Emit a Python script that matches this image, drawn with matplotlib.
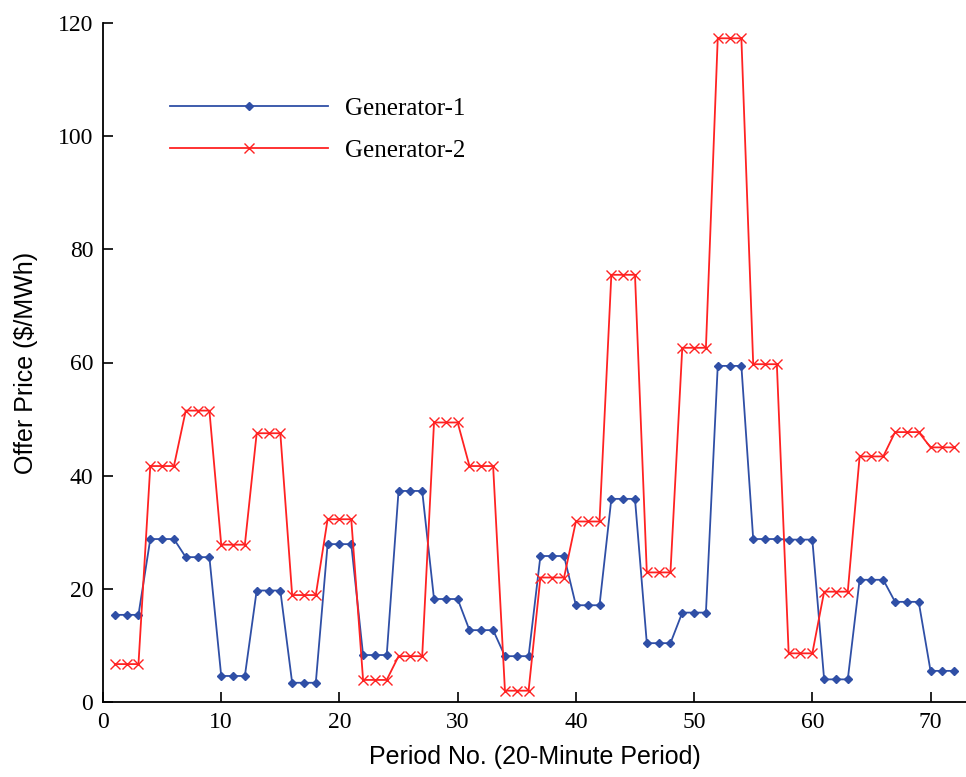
import numpy as np
import matplotlib.pyplot as plt

# Offer prices per 20-minute period
periods = np.arange(1, 73)
gen1 = [15.4, 15.4, 15.4, 28.8, 28.8, 28.8, 25.6, 25.6, 25.6, 4.6, 4.6, 4.6,
        19.7, 19.7, 19.7, 3.4, 3.4, 3.4, 27.9, 27.9, 27.9, 8.3, 8.3, 8.3,
        37.3, 37.3, 37.3, 18.2, 18.2, 18.2, 12.7, 12.7, 12.7, 8.1, 8.1, 8.1,
        25.8, 25.8, 25.8, 17.1, 17.1, 17.1, 35.9, 35.9, 35.9, 10.4, 10.4, 10.4,
        15.8, 15.8, 15.8, 59.4, 59.4, 59.4, 28.8, 28.8, 28.8, 28.7, 28.7, 28.7,
        4.0, 4.0, 4.0, 21.6, 21.6, 21.6, 17.7, 17.7, 17.7, 5.5, 5.5, 5.5]
gen2 = [6.7, 6.7, 6.7, 41.7, 41.7, 41.7, 51.5, 51.5, 51.5, 27.8, 27.8, 27.8,
        47.5, 47.5, 47.5, 18.9, 18.9, 18.9, 32.3, 32.3, 32.3, 3.9, 3.9, 3.9,
        8.1, 8.1, 8.1, 49.4, 49.4, 49.4, 41.7, 41.7, 41.7, 2.0, 2.0, 2.0,
        22.0, 22.0, 22.0, 31.9, 31.9, 31.9, 75.5, 75.5, 75.5, 22.9, 22.9, 22.9,
        62.6, 62.6, 62.6, 117.3, 117.3, 117.3, 59.7, 59.7, 59.7, 8.6, 8.6, 8.6,
        19.5, 19.5, 19.5, 43.4, 43.4, 43.4, 47.7, 47.7, 47.7, 45.0, 45.0, 45.0]

fig = plt.figure(figsize=(9.66, 7.77), dpi=100)
ax = fig.add_axes([103 / 966, 75 / 777, 863 / 966, 679 / 777])

ax.plot(periods, gen1, color='#2f4fa6', lw=1.3, marker='D', ms=4.5,
        label='Generator-1')
ax.plot(periods, gen2, color='#ff2222', lw=1.3, marker='x', ms=7, mew=1.0,
        label='Generator-2')

ax.set_xlim(0, 73)
ax.set_ylim(0, 120)
ax.set_xticks(np.arange(0, 71, 10))
ax.set_yticks(np.arange(0, 121, 20))

for s in ['top', 'right']:
    ax.spines[s].set_visible(False)
for s in ['left', 'bottom']:
    ax.spines[s].set_linewidth(1.3)

ax.tick_params(direction='in', length=7, width=1.2, pad=7)
for lbl in ax.get_xticklabels() + ax.get_yticklabels():
    lbl.set_fontfamily('Liberation Serif')
    lbl.set_fontsize(17)

ax.set_xlabel('Period No. (20-Minute Period)', fontfamily='Liberation Sans',
              fontsize=18, labelpad=9)
ax.set_ylabel('Offer Price ($/MWh)', fontfamily='Liberation Sans',
              fontsize=18, labelpad=14)

ax.legend(loc='upper left', bbox_to_anchor=(0.052, 0.924), frameon=False,
          prop={'family': 'Liberation Serif', 'size': 18},
          handlelength=6.3, handletextpad=0.7, labelspacing=0.8)

fig.savefig('out.png', dpi=100)
